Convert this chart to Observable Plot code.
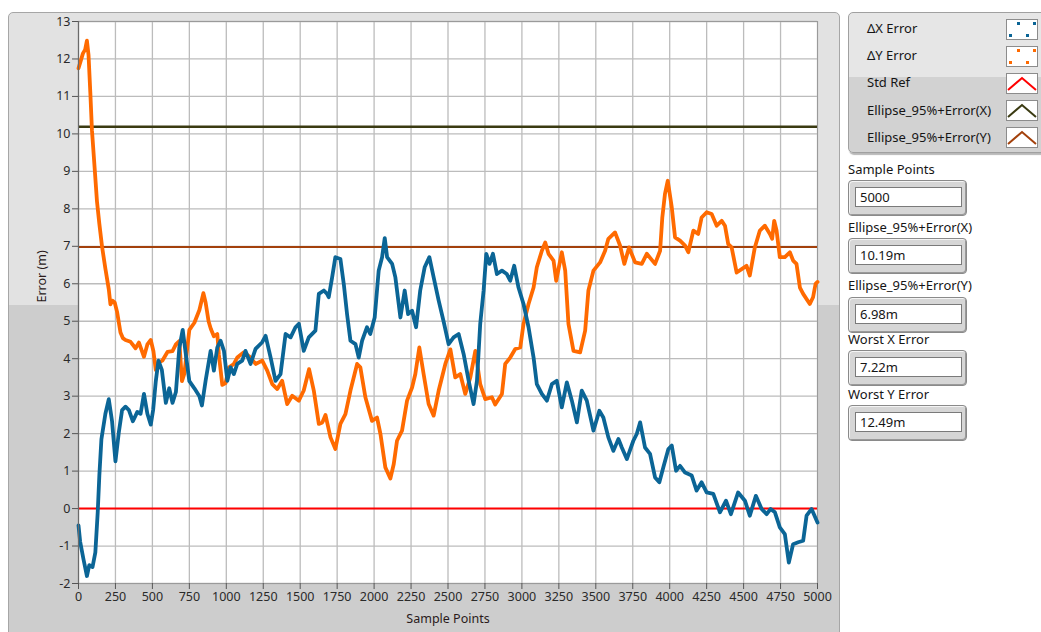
<!DOCTYPE html>
<html>
<head>
<meta charset="utf-8">
<script src="https://cdn.jsdelivr.net/npm/d3@7"></script>
<script src="https://cdn.jsdelivr.net/npm/@observablehq/plot@0.6"></script>
<style>
  body { margin: 0; background: #fff; }
  #root { position: relative; width: 1041px; height: 632px; overflow: hidden; font-family: "Noto Sans", sans-serif; color: #151515; }
  .panel { position: absolute; left: 8px; top: 12px; width: 830px; height: 640px; border: 1px solid #a6a6a6; border-radius: 5px;
           background: linear-gradient(to bottom, #e2e2e2 0, #e2e2e2 292px, #cdcdcd 292px); }
  #chart { position: absolute; left: 0; top: 0; width: 840px; height: 632px; }
  .legend { position: absolute; left: 848px; top: 12px; width: 200px; height: 139px; border: 1px solid #a0a0a0; border-radius: 5px;
            background: linear-gradient(to bottom, #e6e6e6 0, #e6e6e6 64px, #d2d2d2 64px); box-shadow: 1px 2px 1px #b8b8b8; }
  .lrow { position: absolute; left: 18px; font-size: 13px; line-height: 16px; }
  .sw { position: absolute; left: 157px; width: 30px; height: 19px; background: #fff; border: 1px solid #8c8c8c; }
  .lab { position: absolute; left: 848px; font-size: 13px; line-height: 16px; }
  .ind { position: absolute; left: 848px; width: 117px; height: 34px; border: 1px solid #8a8a8a; border-radius: 4px;
         background: #d6d6d6; box-shadow: inset 1px 1px 0 #f4f4f4, inset -1px -1px 0 #9a9a9a; }
  .field { position: absolute; left: 6px; top: 6px; height: 20px; background: #fff; border: 1px solid #7a7a7a;
           font-size: 13px; line-height: 18px; padding-left: 4px; box-sizing: border-box; width: 107px; }
</style>
</head>
<body>
<div id="root">
  <div class="panel"></div>
  <div id="chart"></div>

  <div class="legend">
    <div class="lrow" style="top:7px">ΔX Error</div>
    <div class="lrow" style="top:34px">ΔY Error</div>
    <div class="lrow" style="top:61px">Std Ref</div>
    <div class="lrow" style="top:89px">Ellipse_95%+Error(X)</div>
    <div class="lrow" style="top:116px">Ellipse_95%+Error(Y)</div>
    <div class="sw" style="top:6px"><svg width="30" height="19"><g fill="#0b6596"><rect x="10" y="2" width="3" height="3"/><rect x="26" y="2" width="3" height="3"/><rect x="2" y="14" width="3" height="3"/><rect x="19" y="14" width="3" height="3"/></g></svg></div>
    <div class="sw" style="top:33px"><svg width="30" height="19"><g fill="#ff6a00"><rect x="10" y="2" width="3" height="3"/><rect x="26" y="2" width="3" height="3"/><rect x="2" y="14" width="3" height="3"/><rect x="19" y="14" width="3" height="3"/></g></svg></div>
    <div class="sw" style="top:60px"><svg width="30" height="19"><polyline points="1,16 15,4 29,16" fill="none" stroke="#ff0000" stroke-width="2"/></svg></div>
    <div class="sw" style="top:87px"><svg width="30" height="19"><polyline points="1,16 15,4 29,16" fill="none" stroke="#3b3b12" stroke-width="2"/></svg></div>
    <div class="sw" style="top:114px"><svg width="30" height="19"><polyline points="1,16 15,4 29,16" fill="none" stroke="#a3410c" stroke-width="2"/></svg></div>
  </div>

  <div id="indicators"></div>
</div>
<script>
// Sample index and error (m) for the X-axis error trace
const xSamples = [0, 11, 34, 57, 73, 95, 114, 130, 141, 155, 182, 205, 227, 250, 273, 295, 318, 341, 368, 398, 420, 443, 466, 489, 505, 523, 541, 564, 591, 614, 636, 659, 682, 705, 727, 750, 784, 818, 835, 860, 894, 916, 939, 961, 984, 1007, 1029, 1051, 1074, 1108, 1130, 1164, 1198, 1243, 1266, 1300, 1333, 1367, 1401, 1435, 1468, 1491, 1524, 1558, 1603, 1626, 1660, 1682, 1693, 1716, 1738, 1772, 1795, 1817, 1840, 1874, 1896, 1919, 1952, 1974, 2004, 2031, 2054, 2072, 2088, 2122, 2144, 2178, 2207, 2230, 2257, 2284, 2312, 2342, 2374, 2403, 2437, 2470, 2504, 2538, 2572, 2606, 2640, 2673, 2696, 2718, 2741, 2759, 2781, 2804, 2831, 2865, 2898, 2921, 2948, 2977, 3011, 3045, 3079, 3101, 3135, 3169, 3203, 3236, 3270, 3304, 3338, 3372, 3405, 3439, 3484, 3524, 3551, 3585, 3619, 3653, 3676, 3710, 3754, 3777, 3800, 3833, 3867, 3901, 3930, 3957, 3991, 4014, 4043, 4070, 4104, 4149, 4182, 4216, 4250, 4295, 4340, 4381, 4414, 4463, 4509, 4542, 4583, 4622, 4656, 4683, 4712, 4745, 4779, 4806, 4835, 4869, 4903, 4926, 4960, 5000];
const xError = [-0.45, -0.88, -1.36, -1.8, -1.51, -1.56, -1.17, -0.1, 0.88, 1.85, 2.53, 2.92, 2.33, 1.26, 2.04, 2.63, 2.72, 2.63, 2.33, 2.58, 2.53, 3.06, 2.53, 2.24, 2.63, 3.4, 3.95, 3.7, 2.82, 3.21, 2.82, 3.11, 4.28, 4.77, 4.09, 3.4, 3.21, 3.0, 2.75, 3.41, 4.21, 3.68, 4.3, 4.48, 4.21, 3.41, 3.77, 3.59, 3.86, 3.95, 4.21, 3.86, 4.26, 4.44, 4.61, 4.03, 3.41, 3.59, 4.66, 4.57, 4.84, 4.93, 4.21, 4.57, 4.75, 5.73, 5.82, 5.73, 5.64, 6.17, 6.71, 6.66, 5.99, 5.19, 4.48, 4.39, 4.03, 4.48, 4.84, 4.66, 5.1, 6.35, 6.71, 7.22, 6.71, 6.53, 6.17, 5.1, 5.82, 5.19, 5.28, 4.84, 5.82, 6.44, 6.71, 6.17, 5.55, 5.0, 4.39, 4.57, 4.66, 4.12, 3.41, 2.79, 3.41, 4.93, 5.82, 6.8, 6.53, 6.8, 6.26, 6.35, 6.26, 6.08, 6.48, 5.9, 5.46, 4.84, 4.03, 3.32, 3.06, 2.88, 3.32, 3.41, 2.7, 3.37, 2.88, 2.3, 3.15, 2.88, 2.08, 2.61, 2.43, 1.9, 1.54, 1.86, 1.63, 1.32, 1.81, 1.99, 2.3, 1.63, 1.46, 0.83, 0.7, 1.1, 1.59, 1.68, 1.01, 1.14, 0.96, 0.88, 0.48, 0.7, 0.43, 0.39, -0.1, 0.21, -0.15, 0.43, 0.21, -0.19, 0.34, -0.01, -0.15, -0.01, -0.1, -0.5, -0.68, -1.44, -0.95, -0.9, -0.86, -0.19, -0.01, -0.37];

// Sample index and error (m) for the Y-axis error trace
const ySamples = [0, 15, 30, 45, 57, 68, 80, 91, 109, 125, 141, 159, 182, 205, 216, 230, 245, 261, 284, 300, 318, 352, 386, 409, 443, 466, 489, 507, 523, 541, 568, 602, 636, 659, 682, 700, 716, 750, 784, 818, 845, 860, 880, 895, 916, 939, 950, 973, 995, 1018, 1051, 1074, 1119, 1164, 1198, 1243, 1277, 1311, 1345, 1378, 1412, 1446, 1491, 1524, 1560, 1592, 1626, 1650, 1671, 1705, 1738, 1772, 1806, 1840, 1885, 1907, 1941, 1986, 2020, 2043, 2076, 2110, 2133, 2155, 2189, 2223, 2257, 2279, 2306, 2335, 2369, 2403, 2437, 2482, 2516, 2549, 2583, 2617, 2651, 2685, 2718, 2752, 2797, 2819, 2865, 2887, 2921, 2955, 2989, 3011, 3045, 3079, 3101, 3135, 3158, 3180, 3214, 3232, 3270, 3293, 3315, 3349, 3394, 3428, 3450, 3484, 3529, 3563, 3585, 3630, 3664, 3693, 3725, 3766, 3811, 3845, 3901, 3935, 3950, 3968, 3987, 4014, 4036, 4070, 4104, 4126, 4160, 4193, 4216, 4250, 4284, 4318, 4352, 4374, 4396, 4419, 4453, 4487, 4520, 4542, 4576, 4610, 4644, 4678, 4693, 4707, 4723, 4745, 4779, 4813, 4835, 4858, 4881, 4903, 4948, 4970, 4987, 5000];
const yError = [11.75, 11.95, 12.15, 12.25, 12.49, 12.1, 11.1, 10.1, 9.1, 8.2, 7.6, 7.0, 6.4, 5.85, 5.45, 5.55, 5.5, 5.25, 4.7, 4.55, 4.5, 4.45, 4.28, 4.43, 4.05, 4.38, 4.5, 4.2, 3.7, 3.9, 3.95, 4.18, 4.2, 4.38, 4.47, 3.4, 3.6, 4.77, 4.96, 5.3, 5.75, 5.5, 5.0, 4.8, 4.6, 4.66, 4.1, 3.3, 3.35, 3.77, 3.86, 4.03, 4.17, 4.03, 3.86, 3.95, 3.68, 3.32, 3.19, 3.41, 2.79, 3.01, 2.88, 3.15, 3.72, 3.15, 2.26, 2.3, 2.5, 1.9, 1.59, 2.26, 2.52, 3.15, 3.86, 3.77, 2.97, 2.34, 2.43, 1.99, 1.1, 0.8, 1.19, 1.81, 2.08, 2.88, 3.23, 3.59, 4.3, 3.59, 2.79, 2.48, 3.15, 3.86, 4.25, 3.5, 3.59, 3.06, 3.5, 4.21, 3.32, 2.92, 2.97, 2.78, 3.06, 3.86, 4.03, 4.26, 4.3, 4.93, 5.46, 5.9, 6.44, 6.88, 7.1, 6.8, 6.62, 6.08, 6.84, 6.35, 4.93, 4.21, 4.17, 4.75, 5.82, 6.35, 6.57, 6.88, 7.2, 7.37, 7.02, 6.53, 6.97, 6.57, 6.53, 6.8, 6.53, 6.88, 7.77, 8.4, 8.75, 8.04, 7.24, 7.15, 7.02, 6.84, 7.42, 7.33, 7.77, 7.91, 7.86, 7.55, 7.68, 7.55, 7.06, 6.97, 6.3, 6.39, 6.48, 6.22, 6.97, 7.42, 7.55, 7.33, 7.2, 7.68, 7.42, 6.71, 6.71, 6.84, 6.62, 6.53, 5.9, 5.73, 5.46, 5.64, 6.0, 6.05];

// Reference levels (m)
const stdRef = 0;
const ellipseX = 10.19;
const ellipseY = 6.98;

// Tick positions
const xTicks = d3.range(0, 5001, 250);
const yTicks = d3.range(-2, 14, 1);

// Indicator readouts
const indicatorLabels = ["Sample Points", "Ellipse_95%+Error(X)", "Ellipse_95%+Error(Y)", "Worst X Error", "Worst Y Error"];
const indicatorValues = ["5000", "10.19m", "6.98m", "7.22m", "12.49m"];

const dxRows = xSamples.map((s, i) => ({s, v: xError[i]}));
const dyRows = ySamples.map((s, i) => ({s, v: yError[i]}));

const fmt = d => String(d);
const font = "'Noto Sans', sans-serif";

const chart = Plot.plot({
  width: 840,
  height: 632,
  marginLeft: 78,
  marginRight: 23,
  marginTop: 21,
  marginBottom: 49,
  style: {background: "transparent", fontFamily: font, fontSize: "12.5px", color: "#2a2a2a", overflow: "visible"},
  x: {domain: [0, 5000], label: null},
  y: {domain: [-2, 13], label: null},
  marks: [
    Plot.frame({fill: "#ffffff", stroke: "none"}),
    Plot.gridX(xTicks, {stroke: "#bcbcbc", strokeOpacity: 1, strokeWidth: 1.3}),
    Plot.gridY(yTicks, {stroke: "#bcbcbc", strokeOpacity: 1, strokeWidth: 1.3}),
    Plot.frame({stroke: "#9a9a9a", strokeWidth: 1}),
    Plot.ruleY([stdRef], {stroke: "#ff0000", strokeWidth: 2}),
    Plot.ruleY([ellipseX], {stroke: "#3b3b12", strokeWidth: 2.5}),
    Plot.ruleY([ellipseY], {stroke: "#a3410c", strokeWidth: 2}),
    Plot.line(dyRows, {x: "s", y: "v", stroke: "#ff6a00", strokeWidth: 3.8, strokeLinejoin: "round"}),
    Plot.line(dxRows, {x: "s", y: "v", stroke: "#0b6596", strokeWidth: 3.8, strokeLinejoin: "round"}),
    Plot.ruleX([0], {stroke: "#6a6a6a", strokeWidth: 1.2}),
    Plot.axisX(xTicks, {tickSize: 6, tickPadding: 3, tickFormat: fmt, stroke: "#555", fill: "#2a2a2a", fontSize: 12.5, label: null}),
    Plot.axisY(yTicks, {tickSize: 6, tickPadding: 2, tickFormat: fmt, stroke: "#555", fill: "#2a2a2a", fontSize: 12.5, label: null}),
    Plot.text(["Sample Points"], {text: d => d, frameAnchor: "bottom", dy: 39, fontSize: 12.5, fill: "#2a1a1a"}),
    Plot.text(["Error (m)"], {text: d => d, frameAnchor: "left", dx: -37, rotate: -90, fontSize: 12.5, fill: "#2a1a1a"})
  ]
});
document.getElementById("chart").appendChild(chart);

// Numeric indicators on the right
const labelTops = [161, 219, 277, 331, 386];
const boxTops = [180, 238, 297, 350, 405];
const ind = document.getElementById("indicators");
indicatorLabels.forEach((t, i) => {
  const l = document.createElement("div");
  l.className = "lab";
  l.style.top = labelTops[i] + "px";
  l.textContent = t;
  ind.appendChild(l);
  const b = document.createElement("div");
  b.className = "ind";
  b.style.top = boxTops[i] + "px";
  const f = document.createElement("div");
  f.className = "field";
  f.textContent = indicatorValues[i];
  b.appendChild(f);
  ind.appendChild(b);
});
</script>
</body>
</html>
